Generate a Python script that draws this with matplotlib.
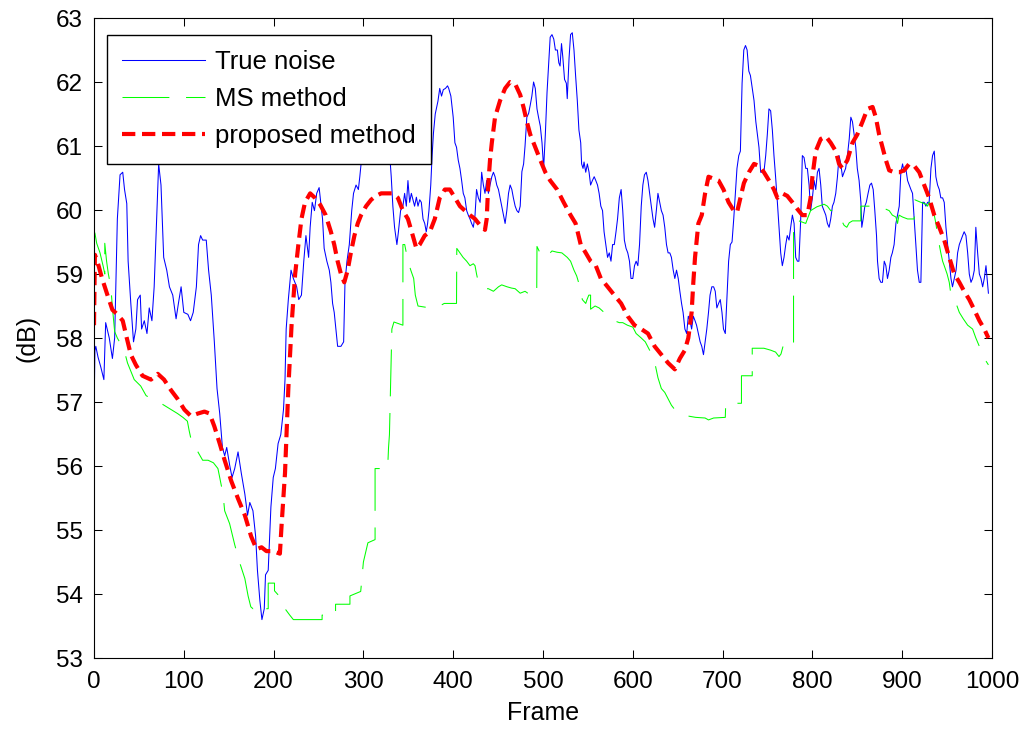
import matplotlib
matplotlib.use("Agg")
import matplotlib.pyplot as plt

# values (frame, dB)
noise_frame = [0, 1, 2, 4.5, 7.5, 11, 13, 17, 20.5, 23, 26, 29, 32, 34, 36.5, 38, 41, 44, 46.6, 48.5,
               51.5, 53, 56, 59, 61.5, 64.5, 67, 69.4, 72, 74.6, 77.6, 81, 84, 87.7, 91.4, 94, 97, 100,
               104.5, 107.5, 110.5, 114, 116.4, 118.7, 121, 125, 127.6, 130.6, 134, 137, 140, 143, 145.5,
               147.8, 151, 153.7, 156.7, 160.4, 164, 168, 171, 173.5, 177, 180, 182, 184.7, 187, 189.6,
               191, 194, 197, 199.6, 202, 205, 208, 211, 212.7, 214, 216.4, 219.4, 222, 225.7, 228, 231,
               233.6, 236, 239, 240.7, 243, 245.5, 248, 250.7, 254.5, 256.3, 259.3, 262, 263.8, 265.7,
               267.5, 269.4, 271.3, 275, 278, 279.5, 281.7, 284.3, 287, 289, 291.8, 294.4, 296, 297.4,
               299, 301, 305, 310, 315, 320, 325, 329, 331, 332.8, 334.7, 337.3, 339, 341.4, 344, 345.9,
               347.8, 349.6, 351.5, 353.4, 357, 359, 360.8, 362.7, 364.5, 366.4, 368.3, 370, 371.5, 373,
               375, 376.5, 378, 380, 383, 385, 387, 389, 391.4, 393.7, 395, 397.4, 400, 401.9, 403.7,
               405.6, 407.5, 409.4, 411.2, 413, 415, 416.8, 418.7, 420.5, 422.4, 424.3, 426, 428, 430,
               431.7, 433.6, 435.4, 437.3, 439.2, 441, 443, 444.8, 446.6, 448.5, 450.4, 452.2, 454, 456,
               457.8, 459.7, 461.6, 463.4, 465.3, 467, 469, 470.9, 472.8, 474.6, 476.5, 478.4, 480, 482,
               484, 485.8, 487.6, 489.5, 491.4, 493.3, 495, 497, 498.9, 500.7, 502.6, 504.5, 506.4, 508,
               510, 512, 513.8, 516, 517.6, 519, 520.6, 522, 524, 526, 527, 529, 530.7, 532.6, 534.5,
               536.3, 538.2, 540, 542, 543, 544.6, 545.7, 547.6, 549.4, 551.3, 553, 555, 557, 558.8,
               560.7, 562.5, 564.4, 566.3, 568, 570, 571.9, 573.8, 575.7, 577.5, 579.4, 581.3, 583, 585,
               587, 588.8, 590.6, 592.5, 594.4, 596.3, 598, 600, 601.9, 603.7, 605.6, 607.5, 609.4,
               611.2, 613, 615, 616.9, 618.7, 620.6, 622.5, 624.3, 626.2, 628, 630, 631.8, 633.7, 635.6,
               637.5, 639.3, 641.2, 643, 645, 646.8, 648.7, 650.6, 652.4, 654.3, 656, 658, 660, 661.8,
               663.7, 665.5, 667.4, 669.3, 671, 673, 675, 676.8, 678.7, 680.5, 682.4, 684.3, 686, 688,
               690, 691.8, 693.6, 695.5, 697.4, 699.3, 701, 703, 705, 706.7, 708.6, 710.5, 712.4, 714.2,
               716, 718, 719.8, 721.7, 723.6, 725.5, 727.3, 729.2, 731, 733, 735, 737, 738.7, 740.5,
               742.4, 744.2, 746, 748, 749.8, 751.6, 753.5, 755.4, 757.2, 759, 761, 762.8, 764.7, 766.5,
               768.4, 770.3, 772, 774, 775.8, 777.7, 779.6, 781.4, 783.3, 785, 787, 788.8, 790.7, 792.6,
               794.4, 796.3, 798, 800, 801.9, 803.7, 805.6, 807.4, 809.3, 811, 813, 814.9, 816.7, 818.6,
               820.4, 822.3, 824, 826, 827.9, 829.7, 831.6, 833.5, 835.3, 837, 839, 841, 842.8, 844.6,
               846.5, 848.3, 850, 852, 854, 855, 856.5, 858.4, 860, 862, 864, 865.8, 867.7, 869.5, 871.4,
               872.5, 874.3, 876.2, 878, 880, 881.8, 883.6, 885.5, 887.4, 889, 891, 893, 894.8, 896.7,
               898.5, 900.4, 902.2, 904, 906, 907.8, 909.7, 911.5, 913.4, 915.2, 917, 919, 920.8, 922.7,
               924.5, 926.4, 928.3, 930, 932, 933.8, 935.7, 937.5, 939.4, 941.3, 943, 945, 946.8, 948.7,
               950.6, 952.4, 954.3, 956, 958, 960, 961.7, 963.6, 965.4, 967.3, 969, 971, 972.9, 974.7,
               976.6, 978.4, 980.3, 982, 984, 985.9, 987.7, 989.6, 991.4, 993.3, 995, 996]
noise_db = [56.77, 57.8, 57.87, 57.7, 57.55, 57.35, 58.24, 58.0, 57.68, 58.0, 59.86, 60.55, 60.59, 60.32,
            60.1, 59.2, 58.54, 57.94, 58.14, 58.6, 58.67, 58.14, 58.27, 58.07, 58.47, 58.27, 58.8, 59.73,
            60.72, 60.39, 59.26, 59.06, 58.8, 58.67, 58.3, 58.54, 58.8, 58.4, 58.37, 58.27, 58.4, 58.8,
            59.46, 59.6, 59.53, 59.53, 59.06, 58.67, 57.94, 57.21, 56.82, 56.29, 56.16, 56.29, 56.02,
            55.82, 55.96, 56.22, 55.89, 55.56, 55.23, 55.43, 55.3, 54.9, 54.37, 53.9, 53.6, 53.77, 54.3,
            54.37, 55.36, 55.82, 55.96, 56.35, 56.49, 56.88, 57.35, 58.14, 58.6, 59.06, 58.93, 58.8,
            58.6, 58.67, 59.2, 59.6, 59.26, 59.73, 60.12, 59.99, 60.26, 60.35, 59.86, 59.4, 59.2, 59.06,
            58.87, 58.54, 58.4, 58.14, 57.87, 57.87, 57.94, 58.87, 59.2, 59.46, 59.99, 60.26, 60.39,
            60.32, 60.52, 60.72, 60.92, 61.5, 61.8, 61.6, 61.9, 61.7, 61.4, 60.92, 60.52, 60.06, 59.73,
            59.46, 59.66, 59.99, 60.06, 60.26, 60.06, 60.46, 60.12, 60.26, 60.06, 60.2, 60.06, 60.16,
            60.12, 59.86, 59.79, 59.66, 59.79, 59.99, 60.39, 60.85, 61.2, 61.5, 61.7, 61.9, 61.78, 61.88,
            61.9, 61.94, 61.9, 61.78, 61.45, 61.05, 60.98, 60.78, 60.65, 60.46, 60.26, 60.19, 59.99,
            59.92, 59.86, 59.79, 59.73, 59.92, 60.32, 60.19, 60.12, 60.59, 60.39, 60.26, 60.46, 60.26,
            60.39, 60.52, 60.59, 60.52, 60.39, 60.32, 60.19, 60.06, 59.92, 59.79, 59.99, 60.26, 60.39,
            60.32, 60.19, 60.06, 59.99, 59.96, 60.06, 60.6, 60.72, 61.0, 61.45, 61.51, 61.64, 61.78,
            62.0, 61.9, 61.58, 61.45, 61.31, 61.05, 60.65, 61.18, 61.84, 62.3, 62.7, 62.74, 62.67, 62.5,
            62.5, 62.3, 62.25, 62.6, 62.4, 62.04, 61.98, 61.74, 62.37, 62.74, 62.77, 62.5, 62.1, 61.71,
            61.25, 61.05, 60.72, 60.65, 60.75, 60.59, 60.72, 60.59, 60.39, 60.46, 60.52, 60.46, 60.39,
            60.26, 60.06, 59.99, 59.66, 59.46, 59.26, 59.33, 59.2, 59.46, 59.46, 59.66, 59.86, 60.19,
            60.32, 59.99, 59.53, 59.4, 59.33, 59.2, 58.93, 58.93, 59.13, 59.2, 59.13, 59.46, 60.06,
            60.39, 60.55, 60.59, 60.46, 60.26, 60.06, 59.86, 59.73, 59.99, 60.26, 60.12, 59.99, 59.92,
            59.73, 59.46, 59.33, 59.33, 59.26, 59.06, 58.93, 59.06, 58.93, 58.73, 58.54, 58.4, 58.14,
            58.07, 58.34, 58.27, 58.14, 58.34, 58.27, 58.2, 58.07, 57.94, 57.87, 57.74, 57.94, 58.14,
            58.4, 58.67, 58.8, 58.8, 58.73, 58.47, 58.54, 58.6, 58.4, 58.14, 58.07, 58.67, 59.2, 59.46,
            59.5, 59.86, 60.26, 60.65, 60.85, 60.92, 61.98, 62.5, 62.57, 62.5, 62.17, 62.1, 61.9, 61.71,
            61.38, 61.18, 60.98, 60.59, 60.59, 60.59, 60.85, 61.18, 61.58, 61.55, 61.25, 60.85, 60.52,
            60.12, 59.73, 59.33, 59.13, 59.26, 59.46, 59.6, 59.53, 59.73, 59.92, 59.79, 59.26, 59.2,
            59.2, 59.86, 60.85, 60.82, 60.65, 60.65, 60.39, 59.99, 60.19, 60.46, 60.32, 60.59, 60.65,
            60.39, 60.06, 59.99, 59.92, 59.79, 59.73, 59.86, 60.06, 60.12, 60.26, 60.52, 60.85, 60.72,
            60.52, 60.59, 60.65, 60.85, 61.11, 61.45, 61.38, 61.18, 60.98, 60.65, 60.46, 60.12, 59.73,
            59.86, 60.06, 60.12, 60.26, 60.39, 60.42, 60.32, 59.99, 59.6, 59.2, 58.93, 58.87, 58.87, 59.2,
            59.13, 58.93, 59.06, 59.26, 59.33, 59.46, 59.79, 59.92, 60.06, 60.59, 60.72, 60.59, 60.65,
            60.46, 60.39, 60.32, 60.26, 59.86, 59.46, 59.06, 58.87, 58.87, 60.12, 60.12, 60.06, 60.12,
            60.12, 60.65, 60.85, 60.92, 60.52, 60.39, 60.32, 60.19, 60.19, 60.12, 59.73, 59.46, 59.2,
            58.93, 58.8, 58.93, 59.06, 59.33, 59.46, 59.53, 59.6, 59.66, 59.6, 59.33, 59.0, 58.87, 58.93,
            59.06, 59.73, 59.33, 59.0, 58.93, 58.8, 58.93, 59.13, 58.87, 58.7]

ms_frame = [0, 1, 3, 6.7, 10.4, 12, 12, 14, 16, 18.7, 21, 23, 26, 30, 33.6, 37.3, 41, 44.8, 52, 58, 61.6,
            71, 78, 86, 93, 99, 104, 106, 110, 115.7, 121, 127, 133, 138, 143.7, 145.5, 151, 156.7, 162,
            168, 171.6, 174.6, 177, 181, 184.7, 194, 194, 201, 201, 208, 212.7, 218, 222, 238, 254, 254,
            269, 269, 285, 285, 297, 300, 305, 313, 313, 327, 328, 329, 331.7, 334, 344, 344, 346, 347.8,
            349.6, 353, 356, 357.8, 360.8, 374, 385, 390, 403.7, 404, 407.5, 411, 415, 418.7, 422.4,
            424.3, 426, 428, 433.6, 439.2, 444.8, 450.4, 454, 460, 465, 469, 474.6, 480, 486, 493, 493.3,
            496, 499, 502.6, 506, 510, 515.7, 521, 527, 530.7, 534.5, 537.5, 540, 542, 543.8, 547.6, 549,
            551, 553, 553, 558, 562.5, 568, 573.8, 579.4, 585, 588.8, 594, 600, 603.7, 609.4, 613.9,
            618.7, 622, 625, 628, 631.8, 635.6, 639.3, 643, 646.8, 652.4, 658, 661.8, 670, 680.5, 684.3,
            690, 703, 703.5, 714.2, 721, 721, 733, 733, 746, 753.5, 759, 762.8, 765, 767.3, 772, 779,
            779, 785, 792.6, 794.4, 798, 805, 813, 816.7, 820.4, 824, 827.9, 831.6, 835.3, 838.3, 841,
            844.6, 853.9, 853.9, 861.3, 868.8, 876.2, 880.7, 885.5, 889, 893, 894.8, 896.5, 900.4, 906,
            913.4, 914, 920.8, 926.4, 928.3, 930, 933.8, 936, 937.5, 939.4, 941.3, 943, 945, 946.8, 950,
            952.4, 954.3, 958, 960, 963.6, 968, 972.9, 978.4, 982, 985.9, 989.6, 993.3, 996]
ms_db = [59.66, 59.64, 59.48, 59.33, 59.11, 59.0, 59.48, 59.2, 59.0, 58.8, 58.4, 58.1, 58.0, 57.9, 57.81,
         57.61, 57.48, 57.35, 57.25, 57.1, 57.07, 57.01, 56.95, 56.88, 56.82, 56.76, 56.7, 56.55, 56.29,
         56.22, 56.09, 56.09, 56.05, 55.96, 55.56, 55.3, 55.1, 54.77, 54.5, 54.24, 53.97, 53.8, 53.77,
         53.83, 53.77, 53.77, 54.17, 54.17, 54.05, 53.94, 53.77, 53.67, 53.6, 53.6, 53.6, 53.67, 53.67,
         53.84, 53.84, 53.97, 54.04, 54.5, 54.8, 54.85, 55.96, 55.96, 56.29, 56.49, 58.14, 58.25, 58.2,
         59.46, 59.46, 59.33, 59.2, 59.05, 58.93, 58.67, 58.5, 58.47, 58.5, 58.54, 58.54, 59.4, 59.33,
         59.26, 59.2, 59.13, 59.16, 59.13, 59.0, 58.87, 58.77, 58.77, 58.73, 58.8, 58.83, 58.8, 58.78,
         58.77, 58.7, 58.73, 58.67, 58.67, 59.43, 59.35, 59.26, 59.26, 59.3, 59.36, 59.34, 59.33, 59.26,
         59.2, 59.06, 58.97, 58.85, 58.73, 58.6, 58.54, 58.6, 58.67, 58.67, 58.45, 58.5, 58.47, 58.4,
         58.34, 58.27, 58.24, 58.24, 58.2, 58.17, 58.07, 58.0, 57.94, 57.81, 57.7, 57.58, 57.38, 57.21,
         57.15, 57.05, 56.95, 56.88, 56.85, 56.8, 56.78, 56.76, 56.75, 56.72, 56.75, 56.76, 56.98, 56.98,
         56.98, 57.41, 57.41, 57.84, 57.84, 57.81, 57.78, 57.71, 57.75, 57.87, 57.85, 57.84, 59.83,
         59.83, 59.79, 59.86, 59.99, 60.05, 60.09, 60.06, 59.99, 59.99, 59.92, 59.86, 59.76, 59.73,
         59.8, 59.83, 59.83, 60.06, 60.06, 60.06, 60.04, 60.02, 59.99, 59.92, 59.89, 59.79, 59.92,
         59.89, 59.86, 59.86, 60.16, 60.12, 60.09, 60.06, 60.12, 60.06, 59.9, 59.79, 59.6, 59.46, 59.33,
         59.2, 59.13, 59.0, 58.87, 58.67, 58.6, 58.54, 58.4, 58.3, 58.2, 58.14, 58.0, 57.87, 57.74,
         57.64, 57.58]

prop_frame = [0, 1, 3.7, 9, 15, 20.5, 26, 32, 36.5, 41, 46.6, 54, 63.4, 71, 78, 86, 93, 100.7, 108,
              115.7, 123, 128.7, 134, 140, 145.5, 153, 160.4, 168, 175, 181, 186.6, 192, 199.6, 207,
              209, 212.7, 216.4, 220, 224, 227.6, 231, 235, 240.7, 246, 252, 258, 263.8, 267.5, 271.3,
              275, 278.7, 282.5, 286, 290, 293.7, 297.4, 303, 308.6, 314, 319.8, 327, 332.8, 338.4, 344,
              349.6, 355, 359, 362.7, 368.3, 374, 379.5, 385, 390.7, 396.3, 402, 407.5, 413, 418.7,
              424.3, 430, 435.4, 437.3, 439, 441, 443, 446.6, 452.2, 457.8, 463.4, 469, 474.6, 478.4,
              482, 485.8, 491.4, 497, 502.6, 508, 515.7, 523, 530.7, 536.3, 542, 547.6, 553, 558.8,
              564.4, 572, 579.4, 587, 594.4, 601.9, 609.4, 616.9, 624.3, 631.8, 639.3, 646.8, 652.4,
              658, 661.8, 665.5, 667.4, 669.3, 673, 676.8, 680.5, 684.3, 690, 695.5, 701, 706.7, 712.4,
              716, 719.8, 723.7, 729.3, 735, 740.5, 746, 751.7, 757.2, 761, 766.5, 772, 777.7, 783,
              788.8, 794.4, 798, 800, 803.7, 809.3, 815, 820.4, 826, 829.7, 833.5, 839, 844.6, 850,
              855.8, 861.3, 867, 870.6, 874.3, 878, 881.8, 885.5, 891, 896.7, 902.2, 907.8, 913.4, 919,
              924.5, 930, 935.7, 941.3, 946.8, 952.4, 958, 963.6, 969, 974.7, 980.3, 986, 991.4, 996]
prop_db = [58.2, 59.3, 59.2, 58.93, 58.67, 58.44, 58.37, 58.27, 58.0, 57.74, 57.58, 57.41, 57.35, 57.44,
           57.35, 57.18, 57.05, 56.88, 56.78, 56.82, 56.85, 56.82, 56.62, 56.35, 56.09, 55.76, 55.49,
           55.23, 54.9, 54.7, 54.73, 54.67, 54.67, 54.63, 55.1, 55.89, 57.21, 58.2, 59.0, 59.46, 59.86,
           60.12, 60.26, 60.19, 60.08, 59.92, 59.66, 59.46, 59.2, 59.0, 58.87, 59.06, 59.33, 59.6, 59.79,
           59.92, 60.06, 60.16, 60.22, 60.26, 60.26, 60.26, 60.19, 59.99, 59.86, 59.6, 59.4, 59.46, 59.6,
           59.66, 59.86, 60.19, 60.32, 60.32, 60.19, 60.06, 59.99, 59.92, 59.86, 59.76, 59.69, 59.86,
           60.39, 60.78, 61.05, 61.45, 61.71, 61.9, 62.0, 61.97, 61.8, 61.6, 61.38, 61.18, 60.98, 60.78,
           60.59, 60.46, 60.32, 60.12, 59.92, 59.79, 59.46, 59.33, 59.2, 59.13, 58.93, 58.8, 58.67, 58.54,
           58.34, 58.2, 58.14, 58.07, 57.87, 57.74, 57.61, 57.51, 57.68, 57.81, 58.0, 58.4, 58.87, 59.26,
           59.79, 59.92, 60.26, 60.52, 60.49, 60.46, 60.32, 60.12, 59.99, 59.96, 60.19, 60.42, 60.59,
           60.72, 60.69, 60.59, 60.46, 60.32, 60.19, 60.26, 60.22, 60.12, 60.02, 59.92, 59.92, 60.19,
           60.52, 60.92, 61.11, 61.15, 61.05, 60.92, 60.72, 60.65, 60.78, 61.05, 61.18, 61.38, 61.58,
           61.61, 61.45, 61.18, 60.98, 60.78, 60.62, 60.59, 60.59, 60.62, 60.72, 60.69, 60.59, 60.39,
           60.19, 59.92, 59.73, 59.53, 59.26, 59.0, 58.87, 58.73, 58.6, 58.44, 58.27, 58.14, 58.0]

plt.rcParams['font.family'] = ['Liberation Sans', 'DejaVu Sans']

fig = plt.figure(figsize=(10.26, 7.30), dpi=100)
ax = fig.add_axes([94 / 1026, 1 - 658 / 730, 898 / 1026, 640 / 730])

ax.plot(noise_frame, noise_db, color='#0000ff', lw=0.75, label='True noise')
ax.plot(ms_frame, ms_db, color='#00ff00', lw=0.75, dashes=(45, 16), label='MS method')
ax.plot(prop_frame, prop_db, color='#ff0000', lw=3.0, dashes=(3.2, 1.6), label='proposed method')

ax.set_xlim(0, 1000)
ax.set_ylim(53, 63)
ax.set_xticks(range(0, 1001, 100))
ax.set_yticks(range(53, 64))
ax.tick_params(direction='in', length=6, width=0.75, top=True, right=True, labelsize=17.5)
ax.tick_params(axis='x', pad=9)
ax.tick_params(axis='y', pad=8)
for s in ax.spines.values():
    s.set_linewidth(0.8)

ax.set_xlabel('Frame', fontsize=18, labelpad=6)
ax.set_ylabel('(dB)', fontsize=18, labelpad=12)

leg = ax.legend(loc='upper left', bbox_to_anchor=(13 / 898, 1 - 17 / 640), borderaxespad=0,
                fontsize=18.5, fancybox=False, framealpha=1, edgecolor='black',
                handlelength=3.2, handletextpad=0.4, labelspacing=0.5, borderpad=0.6)
leg.get_frame().set_linewidth(1.0)

fig.savefig('out.png', dpi=100)
